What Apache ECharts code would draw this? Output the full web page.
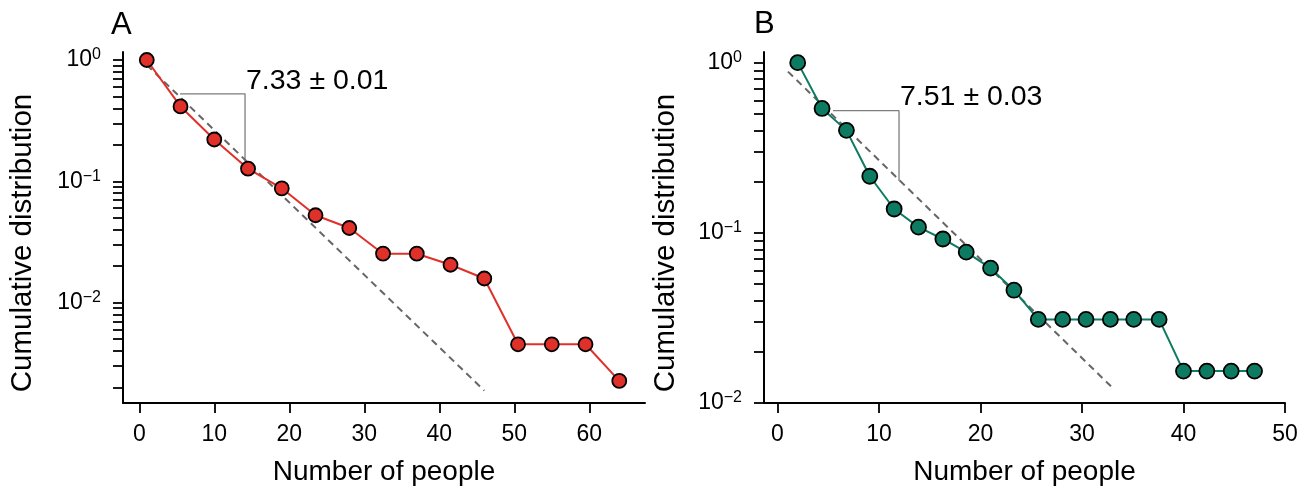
<!DOCTYPE html>
<html>
<head>
<meta charset="utf-8">
<script src="https://cdn.jsdelivr.net/npm/echarts@6/dist/echarts.min.js"></script>
<style>
  html, body { margin: 0; padding: 0; background: #fff; }
  #chart { width: 1316px; height: 491px; }
</style>
</head>
<body>
<div id="chart"></div>
<script>
// panel A
const peopleA = [1, 5.5, 10, 14.5, 19, 23.5, 28, 32.5, 37, 41.5, 46, 50.5, 55, 59.5, 64];
const cdfA = [1, 0.414, 0.221, 0.127, 0.0875, 0.0525, 0.0412, 0.0253, 0.0253, 0.0205, 0.0158, 0.00453, 0.00453, 0.00453, 0.00226];
const fitAx = [1, 46];
const fitAy = [0.91, 0.00188];
const slopeAx = [5.43, 14.1, 14.1];
const slopeAy = [0.526, 0.526, 0.1466];

// panel B
const peopleB = [2.0, 4.4, 6.8, 9.1, 11.5, 13.9, 16.3, 18.6, 21.0, 23.3, 25.7, 28.1, 30.4, 32.8, 35.1, 37.6, 40.0, 42.3, 44.7, 47.0];
const cdfB = [1, 0.538, 0.4, 0.215, 0.138, 0.108, 0.092, 0.077, 0.062, 0.046, 0.031, 0.031, 0.031, 0.031, 0.031, 0.031, 0.0154, 0.0154, 0.0154, 0.0154];
const fitBx = [1.04, 33.0];
const fitBy = [0.886, 0.0123];
const slopeBx = [5.48, 11.98, 11.98];
const slopeBy = [0.522, 0.522, 0.2014];

// ticks
const xTicksA = [0, 10, 20, 30, 40, 50, 60];
const xTicksB = [0, 10, 20, 30, 40, 50];
const minorA = [0.002, 0.003, 0.004, 0.005, 0.006, 0.007, 0.008, 0.009,
  0.01, 0.02, 0.03, 0.04, 0.05, 0.06, 0.07, 0.08, 0.09,
  0.1, 0.2, 0.3, 0.4, 0.5, 0.6, 0.7, 0.8, 0.9, 1];
const minorB = [0.01, 0.02, 0.03, 0.04, 0.05, 0.06, 0.07, 0.08, 0.09,
  0.1, 0.2, 0.3, 0.4, 0.5, 0.6, 0.7, 0.8, 0.9, 1];
const decades = [-2, -1, 0];

const FONT = '"Liberation Sans", Arial, Helvetica, sans-serif';
const lg = v => Math.log10(v);
const pts = (xs, ys) => xs.map((x, i) => [x, lg(ys[i])]);

function xAxis(idx, min, max, ticks) {
  return {
    gridIndex: idx, type: 'value', min: min, max: max, position: 'bottom',
    name: 'Number of people', nameLocation: 'middle', nameGap: 55,
    nameTextStyle: { fontSize: 28, color: '#000', fontFamily: FONT },
    axisLine: { onZero: false, lineStyle: { color: '#000', width: 2 } },
    axisTick: { customValues: ticks, length: 10, lineStyle: { color: '#000', width: 1.8 } },
    axisLabel: { customValues: ticks, fontSize: 23, color: '#000', fontFamily: FONT, margin: 20 },
    splitLine: { show: false }
  };
}

function yAxis(idx, min, max, ticks) {
  return {
    gridIndex: idx, type: 'value', min: min, max: max, position: 'left',
    axisLine: { onZero: false, lineStyle: { color: '#000', width: 2 } },
    axisTick: { customValues: ticks.map(lg), length: 10, lineStyle: { color: '#000', width: 1.8 } },
    axisLabel: {
      customValues: decades, margin: 22, color: '#000', fontFamily: FONT,
      formatter: v => '{b|10}{s|' + (Math.round(v) < 0 ? '\u2212' + (-Math.round(v)) : Math.round(v)) + '}',
      rich: {
        b: { fontSize: 23, lineHeight: 26, fontFamily: FONT, color: '#000' },
        s: { fontSize: 16, lineHeight: 16, verticalAlign: 'top', fontFamily: FONT, color: '#000' }
      }
    },
    splitLine: { show: false }
  };
}

function dataSeries(idx, xs, ys, color, size) {
  return {
    type: 'line', xAxisIndex: idx, yAxisIndex: idx, data: pts(xs, ys),
    symbol: 'circle', symbolSize: size, z: 5,
    lineStyle: { color: color, width: 2 },
    itemStyle: { color: color, borderColor: '#000', borderWidth: 1.8 }
  };
}

function fitSeries(idx, xs, ys) {
  return {
    type: 'line', xAxisIndex: idx, yAxisIndex: idx, data: pts(xs, ys),
    symbol: 'none', z: 4,
    lineStyle: { color: '#666', width: 2, type: [7, 5] }
  };
}

function slopeSeries(idx, xs, ys) {
  return {
    type: 'line', xAxisIndex: idx, yAxisIndex: idx, data: pts(xs, ys),
    symbol: 'none', z: 3,
    lineStyle: { color: '#7d7d7d', width: 1.3 }
  };
}

function txt(text, x, y, size, rot) {
  return {
    type: 'text', x: x, y: y, rotation: rot || 0,
    style: { text: text, fontSize: size, fontFamily: FONT, fill: '#000',
      align: rot ? 'center' : 'left', verticalAlign: 'middle' }
  };
}

const chart = echarts.init(document.getElementById('chart'));
chart.setOption({
  animation: false,
  backgroundColor: '#fff',
  grid: [
    { left: 123, top: 52, width: 522, height: 353 },
    { left: 764, top: 52, width: 521, height: 353 }
  ],
  xAxis: [xAxis(0, -2.17, 67.43, xTicksA), xAxis(1, -1.32, 50, xTicksB)],
  yAxis: [yAxis(0, -2.828, 0.066, minorA), yAxis(1, -2, 0.0626, minorB)],
  series: [
    slopeSeries(0, slopeAx, slopeAy),
    fitSeries(0, fitAx, fitAy),
    dataSeries(0, peopleA, cdfA, '#e0302a', 14),
    slopeSeries(1, slopeBx, slopeBy),
    fitSeries(1, fitBx, fitBy),
    dataSeries(1, peopleB, cdfB, '#0d7b62', 15)
  ],
  graphic: [
    txt('A', 111, 25, 31),
    txt('B', 754, 24, 31),
    txt('7.33 \u00b1 0.01', 246, 81, 28.5),
    txt('7.51 \u00b1 0.03', 900, 97, 28.5),
    txt('Cumulative distribution', 23, 243, 29.5, Math.PI / 2),
    txt('Cumulative distribution', 666, 243, 29.5, Math.PI / 2)
  ]
});
</script>
</body>
</html>
